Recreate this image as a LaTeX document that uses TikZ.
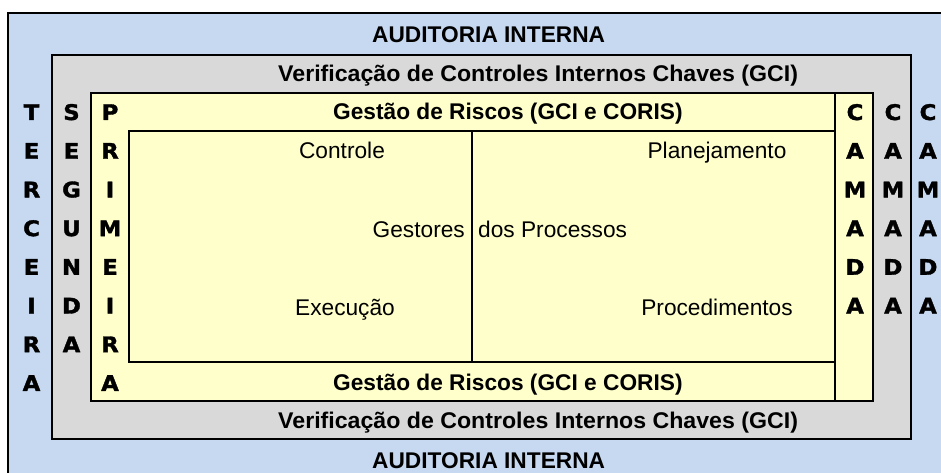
\documentclass[tikz,border=0pt]{standalone}
\usepackage{fontspec}
\setmainfont{Liberation Sans}
\newfontfamily\blk[FakeBold=1.5]{DejaVu Sans Bold}
\definecolor{lblue}{HTML}{C6D9F1}
\definecolor{lgray}{HTML}{D9D9D9}
\definecolor{lyel}{HTML}{FFFFCC}
\tikzset{
  frame/.style={draw=black,line width=2pt},
  lbl/.style={inner sep=0pt,font=\fontsize{22.7}{26}\selectfont},
  hdr/.style={inner sep=0pt,font=\fontsize{22.7}{26}\selectfont\bfseries},
  letter/.style={inner sep=0pt,xscale=1.06,font=\blk\fontsize{21.5}{26}\selectfont},
}
\begin{document}
\begin{tikzpicture}[x=1pt,y=-1pt]
\useasboundingbox (0,0) rectangle (941,473);
\clip (0,0) rectangle (941,473);
\fill[white] (0,0) rectangle (941,473);
% outer blue (cropped at right and bottom)
\filldraw[frame,fill=lblue] (8,13) rectangle (980,520);
% gray
\filldraw[frame,fill=lgray] (52,55) rectangle (911,439);
% yellow
\filldraw[frame,fill=lyel] (91,93) rectangle (873,401);
% inner lines
\draw[frame] (835,93) -- (835,401);
\draw[frame] (129,131) rectangle (835,362);
\draw[frame] (472,131) -- (472,362);
% headers
\node[hdr,anchor=base west] (audT) at (372,43) {AUDITORIA INTERNA};
\node[hdr,anchor=base west] (audB) at (372,468) {AUDITORIA INTERNA};
\node[hdr,anchor=base west,xscale=1.02] (verT) at (278,82) {Verificação de Controles Internos Chaves (GCI)};
\node[hdr,anchor=base west,xscale=1.02] (verB) at (278,428) {Verificação de Controles Internos Chaves (GCI)};
\node[hdr,anchor=base west] (gesT) at (333,120) {Gestão de Riscos (GCI e CORIS)};
\node[hdr,anchor=base west] (gesB) at (333,390) {Gestão de Riscos (GCI e CORIS)};
% inner labels
\node[lbl,anchor=base] (ctl) at (342,158) {Controle};
\node[lbl,anchor=base] (pla) at (717,158) {Planejamento};
\node[lbl,anchor=base east] (gst) at (465,237) {Gestores};
\node[lbl,anchor=base west] (dos) at (478,237) {dos Processos};
\node[lbl,anchor=base] (exe) at (345,315) {Execução};
\node[lbl,anchor=base] (pro) at (717,315) {Procedimentos};
% vertical letter columns
\foreach [count=\i] \c in {T,E,R,C,E,I,R,A}
  \node[letter,anchor=base] (ter\i) at (31.5,{112+38.7*(\i-1)+8}) {\c};
\foreach [count=\i] \c in {S,E,G,U,N,D,A}
  \node[letter,anchor=base] (seg\i) at (71.5,{112+38.7*(\i-1)+8}) {\c};
\foreach [count=\i] \c in {P,R,I,M,E,I,R,A}
  \node[letter,anchor=base] (pri\i) at (110,{112+38.7*(\i-1)+8}) {\c};
\foreach [count=\i] \c in {C,A,M,A,D,A}
  \node[letter,anchor=base] (camA\i) at (855,{112+38.7*(\i-1)+8}) {\c};
\foreach [count=\i] \c in {C,A,M,A,D,A}
  \node[letter,anchor=base] (camB\i) at (893,{112+38.7*(\i-1)+8}) {\c};
\foreach [count=\i] \c in {C,A,M,A,D,A}
  \node[letter,anchor=base] (camC\i) at (928,{112+38.7*(\i-1)+8}) {\c};
\end{tikzpicture}
\end{document}
